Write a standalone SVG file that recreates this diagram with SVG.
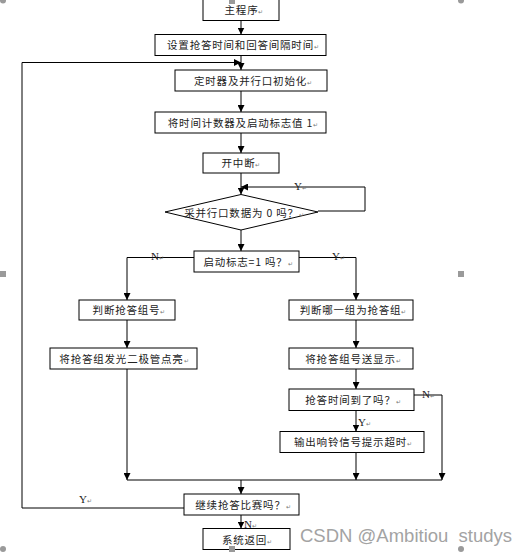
<svg xmlns="http://www.w3.org/2000/svg" width="529" height="553" viewBox="0 0 529 553">
<style>
.box{fill:#fff;stroke:#000;stroke-width:1}
.ln{fill:none;stroke:#000;stroke-width:1}
.t{font-family:"Noto Sans CJK SC","Noto Sans CJK JP",sans-serif;font-size:10.5px;fill:#222;text-anchor:middle;letter-spacing:0.8px}
.pm{font-size:6px;fill:#777;letter-spacing:0}
.lb{font-family:"Liberation Serif",serif;font-size:11px;fill:#222}
.h{fill:#9a9a9a}
.wm{font-family:"Liberation Sans",Arial,sans-serif;font-size:18.5px;fill:#a3a3a3;white-space:pre}
</style>
<defs>
<marker id="ar" viewBox="0 0 8 8" refX="8" refY="4" markerWidth="7" markerHeight="7" markerUnits="userSpaceOnUse" orient="auto">
<path d="M0,0 L8,4 L0,8 z" fill="#000"/>
</marker>
</defs>
<rect width="529" height="553" fill="#fff"/>

<g id="connectors">
<line class="ln" x1="241" y1="20.5" x2="241" y2="34.5" marker-end="url(#ar)"/>
<line class="ln" x1="241" y1="55.5" x2="241" y2="70" marker-end="url(#ar)"/>
<line class="ln" x1="241" y1="91" x2="241" y2="112" marker-end="url(#ar)"/>
<line class="ln" x1="241" y1="133" x2="241" y2="153" marker-end="url(#ar)"/>
<line class="ln" x1="241" y1="173" x2="241" y2="194.5" marker-end="url(#ar)"/>
<polyline class="ln" points="318,211 365,211 365,187 241,187" marker-end="url(#ar)"/>
<line class="ln" x1="241" y1="230" x2="241" y2="251" marker-end="url(#ar)"/>
<polyline class="ln" points="194,257.5 127,257.5 127,300" marker-end="url(#ar)"/>
<polyline class="ln" points="299,257.5 356,257.5 356,300" marker-end="url(#ar)"/>
<line class="ln" x1="127" y1="320" x2="127" y2="348" marker-end="url(#ar)"/>
<line class="ln" x1="127" y1="369" x2="127" y2="480" marker-end="url(#ar)"/>
<line class="ln" x1="356" y1="320" x2="356" y2="348" marker-end="url(#ar)"/>
<line class="ln" x1="356" y1="369" x2="356" y2="389" marker-end="url(#ar)"/>
<line class="ln" x1="356" y1="410.5" x2="356" y2="431.5" marker-end="url(#ar)"/>
<polyline class="ln" points="414,395 442,395 442,480" marker-end="url(#ar)"/>
<line class="ln" x1="356" y1="452.5" x2="356" y2="480" marker-end="url(#ar)"/>
<line class="ln" x1="127" y1="480" x2="442" y2="480"/>
<line class="ln" x1="241" y1="480" x2="241" y2="494" marker-end="url(#ar)"/>
<polyline class="ln" points="184,508 22,508 22,62.5 241,62.5" marker-end="url(#ar)"/>
<line class="ln" x1="241" y1="515" x2="241" y2="528.5" marker-end="url(#ar)"/>
<text class="lb" x="294" y="190">Y<tspan class="pm">↵</tspan></text>
<text class="lb" x="151" y="260">N<tspan class="pm">↵</tspan></text>
<text class="lb" x="332" y="260">Y<tspan class="pm">↵</tspan></text>
<text class="lb" x="422" y="398">N<tspan class="pm">↵</tspan></text>
<text class="lb" x="358" y="426">Y<tspan class="pm">↵</tspan></text>
<text class="lb" x="79" y="503">Y<tspan class="pm">↵</tspan></text>
<text class="lb" x="244" y="527.5">N<tspan class="pm">↵</tspan></text>
</g>

<g id="n1"><rect class="box" x="203" y="-1" width="76" height="21.5"/><text class="t" x="244" y="14">主程序<tspan class="pm">↵</tspan></text></g>
<g id="n2"><rect class="box" x="155" y="34.5" width="171" height="21"/><text class="t" x="243" y="49">设置抢答时间和回答间隔时间<tspan class="pm">↵</tspan></text></g>
<g id="n3"><rect class="box" x="175" y="70" width="152" height="21"/><text class="t" x="253" y="84.5">定时器及并行口初始化<tspan class="pm">↵</tspan></text></g>
<g id="n4"><rect class="box" x="155" y="112" width="171" height="21"/><text class="t" x="243" y="126.5">将时间计数器及启动标志值 1<tspan class="pm">↵</tspan></text></g>
<g id="n5"><rect class="box" x="203" y="153" width="76" height="20"/><text class="t" x="241" y="167">开中断<tspan class="pm">↵</tspan></text></g>
<g id="n6"><polygon class="box" points="241,194.5 318,212 241,230 165,212"/><text class="t" x="244" y="216.5">采并行口数据为 0 吗？<tspan class="pm">↵</tspan></text></g>
<g id="n7"><rect class="box" x="194" y="251" width="105" height="21"/><text class="t" x="248" y="265.5">启动标志=1 吗？<tspan class="pm">↵</tspan></text></g>
<g id="n8"><rect class="box" x="79" y="300" width="96" height="20"/><text class="t" x="129" y="314">判断抢答组号<tspan class="pm">↵</tspan></text></g>
<g id="n9"><rect class="box" x="50" y="348" width="147" height="21"/><text class="t" x="124" y="362.5">将抢答组发光二极管点亮<tspan class="pm">↵</tspan></text></g>
<g id="n10"><rect class="box" x="289" y="300" width="124" height="20"/><text class="t" x="353" y="314">判断哪一组为抢答组<tspan class="pm">↵</tspan></text></g>
<g id="n11"><rect class="box" x="289" y="348" width="124" height="21"/><text class="t" x="353" y="362.5">将抢答组号送显示<tspan class="pm">↵</tspan></text></g>
<g id="n12"><rect class="box" x="289" y="389" width="125" height="21.5"/><text class="t" x="353" y="404">抢答时间到了吗？<tspan class="pm">↵</tspan></text></g>
<g id="n13"><rect class="box" x="280" y="431.5" width="144" height="21"/><text class="t" x="353" y="446">输出响铃信号提示超时<tspan class="pm">↵</tspan></text></g>
<g id="n14"><rect class="box" x="184" y="494" width="115" height="21"/><text class="t" x="243" y="508.5">继续抢答比赛吗？<tspan class="pm">↵</tspan></text></g>
<g id="n15"><rect class="box" x="203" y="528.5" width="87" height="21"/><text class="t" x="247" y="543.5">系统返回<tspan class="pm">↵</tspan></text></g>

<g id="handles">
<circle class="h" cx="3" cy="0.5" r="3"/>
<circle class="h" cx="461" cy="0.5" r="3"/>
<circle class="h" cx="3" cy="549" r="3"/>
<circle class="h" cx="461" cy="549" r="3"/>
<rect class="h" x="229" y="-2" width="6" height="6"/>
<rect class="h" x="0" y="271" width="6" height="6"/>
<rect class="h" x="458" y="271" width="6" height="6"/>
<rect class="h" x="229" y="546" width="6" height="6"/>
</g>
<text class="wm" x="300" y="542" xml:space="preserve">CSDN @Ambitiou  studys</text>
</svg>
